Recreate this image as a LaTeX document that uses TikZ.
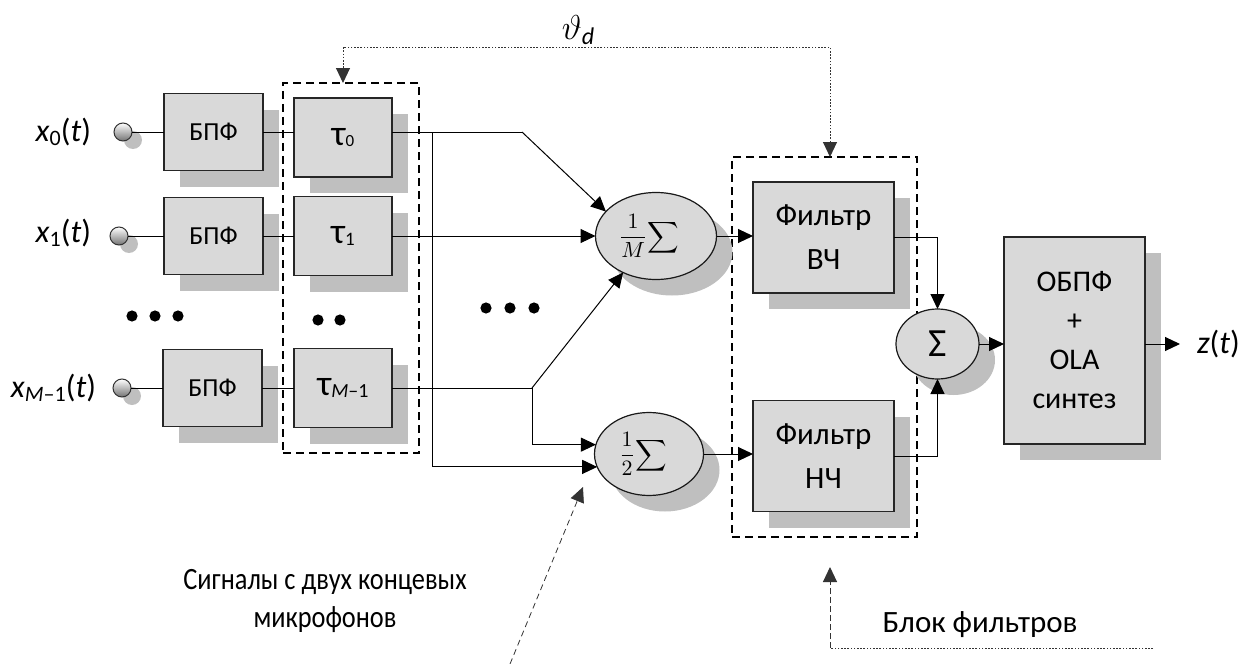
\documentclass[tikz,border=0pt]{standalone}
\usepackage{amsmath}
\usepackage{fontspec}
\setmainfont{Carlito}
\usetikzlibrary{arrows.meta,shapes.geometric,shadows,calc}
\definecolor{boxgray}{HTML}{D9D9D9}
\definecolor{shadowgray}{HTML}{BFBFBF}
\begin{document}
\begin{tikzpicture}[x=0.5pt,y=-0.5pt,
  >={Triangle[length=7.5pt,width=7pt]},
  every node/.style={inner sep=0pt, outer sep=0pt},
  shd/.style={drop shadow={shadow xshift=8pt, shadow yshift=-8pt, opacity=1, fill=shadowgray, draw=none}},
  blk/.style={draw=black!85, line width=0.7pt, fill=boxgray, shd},
  bpfbox/.style={blk, minimum width=49.5pt, minimum height=38.5pt, font=\fontsize{13}{13}\selectfont},
  taubox/.style={blk, minimum width=49pt, minimum height=39.5pt},
  fltbox/.style={blk, minimum width=70.5pt, minimum height=55.5pt, align=center, font=\fontsize{15.5}{22}\selectfont},
  ell/.style={ellipse, draw=black!90, line width=0.6pt, fill=boxgray, shd},
  term/.style={circle, draw=black!80, line width=0.5pt, minimum size=9pt, top color=white, bottom color=black!55,
     drop shadow={shadow xshift=5pt, shadow yshift=-4pt, opacity=1, fill=black!25, draw=none}},
  grp/.style={draw=black, line width=0.7pt, dash pattern=on 4pt off 2.5pt},
  ln/.style={draw=black, line width=0.5pt},
  arr/.style={ln, ->},
  fbdot/.style={draw=black!80, line width=0.5pt, dash pattern=on 0.8pt off 0.8pt},
  fbdash/.style={draw=black!80, line width=0.5pt, dash pattern=on 3pt off 1.5pt},
  lbl/.style={font=\fontsize{16}{16}\selectfont}
]
\useasboundingbox (0,0) rectangle (1244,664);

% group boxes
\node[grp, minimum width=68pt, minimum height=185pt] (taugrp) at (351,268) {};
\node[grp, minimum width=92.5pt, minimum height=190pt] (fltgrp) at (824.5,347) {};

% input terminals
\node[term] (t0) at (123,132) {};
\node[term] (t1) at (119,236) {};
\node[term] (t2) at (122,388) {};

\node[lbl, anchor=east] (x0) at (91,132) {\textit{x}\raisebox{-2pt}{\fontsize{11}{11}\selectfont 0}(\textit{t})};
\node[lbl, anchor=east] (x1) at (91,233) {\textit{x}\raisebox{-2pt}{\fontsize{11}{11}\selectfont 1}(\textit{t})};
\node[lbl, anchor=east] (x2) at (96,388) {\textit{x}\raisebox{-2pt}{\fontsize{11}{11}\selectfont\textit{M}–1}(\textit{t})};

% FFT boxes
\node[bpfbox] (b0) at (213.5,132) {БПФ};
\node[bpfbox] (b1) at (213.5,236) {БПФ};
\node[bpfbox] (b2) at (212.5,388) {БПФ};

% delay boxes
\node[taubox] (tau0) at (343,137.5) {\fontsize{18}{18}\selectfont τ\raisebox{-0.6pt}{\fontsize{8.5}{8.5}\selectfont 0}};
\node[taubox] (tau1) at (343,236) {\fontsize{18}{18}\selectfont τ\raisebox{-0.8pt}{\fontsize{9.5}{9.5}\selectfont 1}};
\node[taubox] (tau2) at (343,388) {\fontsize{18}{18}\selectfont τ\raisebox{-1pt}{\fontsize{10}{10}\selectfont\textit{M}–1}};

% summators
\node[ell, minimum width=60.5pt, minimum height=43.5pt] (e1) at (656,236) {\fontsize{10.5}{10.5}\selectfont$\displaystyle\frac{1}{M}\!\sum$\hspace*{7pt}};
\node[ell, minimum width=54.5pt, minimum height=41.5pt] (e2) at (649,454) {\fontsize{10.5}{10.5}\selectfont$\displaystyle\frac{1}{2}\!\sum$\hspace*{6pt}};

% filters
\node[fltbox] (vch) at (823.5,237.5) {Фильтр\\ВЧ};
\node[fltbox] (nch) at (823.5,456) {Фильтр\\НЧ};

\node[ell, minimum width=41.5pt, minimum height=35pt] (sig) at (937.5,344) {\fontsize{20}{20}\selectfont Σ};

\node[blk, minimum width=70.5pt, minimum height=103.5pt, align=center, font=\fontsize{15}{19.5}\selectfont] (obpf) at (1074.5,340.5) {ОБПФ\\+\\OLA\\синтез};

\node[lbl, anchor=west] (z) at (1197,344) {\textit{z}(\textit{t})};

% dots
\fill (132,316) circle[radius=2.8pt] (155,316) circle[radius=2.8pt] (178,316) circle[radius=2.8pt];
\fill (318,320) circle[radius=2.8pt] (340,320) circle[radius=2.8pt];
\fill (486,308) circle[radius=2.8pt] (510,308) circle[radius=2.8pt] (534,308) circle[radius=2.8pt];

% connectors
\draw[ln] (t0.east) -- (t0.east -| b0.west);
\draw[ln] (t1.east) -- (t1.east -| b1.west);
\draw[ln] (t2.east) -- (t2.east -| b2.west);
\draw[ln] (b0.east) -- (b0.east -| tau0.west);
\draw[ln] (b1.east) -- (b1.east -| tau1.west);
\draw[ln] (b2.east) -- (b2.east -| tau2.west);

\coordinate (j1) at (432,132);
\coordinate (k1) at (522,132);
\coordinate (j2) at (532,388);
\draw[ln] (tau0.east |- b0.east) -- (k1);
\draw[arr] (k1) -- (e1.154);
\draw[arr] (tau1.east) -- (e1.west);
\draw[ln] (tau2.east) -- (j2);
\draw[arr] (j2) -- (e1.228);
\draw[arr] (j2) |- (e2.170);
\draw[arr] (j1) |- (e2.194);

\draw[arr] (e1.east) -- (e1.east -| vch.west);
\draw[arr] (e2.east) -- (e2.east -| nch.west);
\draw[arr] (vch.east) -| (sig.north);
\draw[arr] (nch.east) -| (sig.south);
\draw[arr] (sig.east) -- (sig.east -| obpf.west);
\draw[arr] (obpf.east |- sig.east) -- ([xshift=-8.5pt]z.west);

% feedback theta_d
\coordinate (fL) at (343,47);
\coordinate (fR) at (830,47);
\draw[fbdot, <->] (fR |- fltgrp.north) -- (fR) -- (fL) -- (fL |- taugrp.north);
\node (theta) at (578,30) {\fontsize{17}{17}\selectfont$\vartheta$\raisebox{-2.5pt}{\fontsize{12}{12}\selectfont\textit{d}}};

% microphones note
\node[align=center, font=\fontsize{15.5}{19}\selectfont] (mic) at (325,601) {\scalebox{0.85}[1]{Сигналы с двух концевых}\\\scalebox{0.85}[1]{микрофонов}};
\coordinate (ms) at (510,664);
\coordinate (me) at (583,487);
\draw[draw=black!80, line width=0.4pt, dash pattern=on 3pt off 2pt, ->] (ms) -- (me);

% filter block note
\node[font=\fontsize{15.5}{15.5}\selectfont] (blkf) at (980,625) {Блок фильтров};
\coordinate (bs) at (1153,648);
\coordinate (bc) at (830,648);
\coordinate (be) at (830,567);
\draw[fbdot] (bs) -- (bc);
\draw[fbdash, ->] (bc) -- (be);
\end{tikzpicture}
\end{document}
